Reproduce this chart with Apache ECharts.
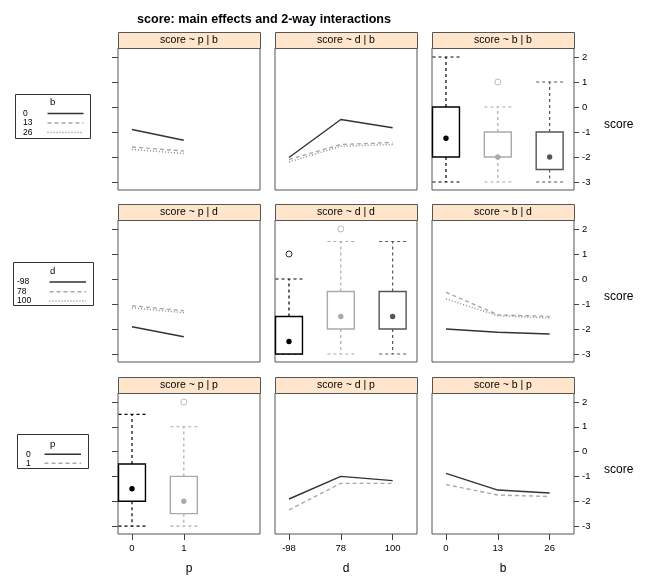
<!DOCTYPE html>
<html><head><meta charset="utf-8">
<script src="https://cdn.jsdelivr.net/npm/echarts@6/dist/echarts.min.js"></script>
<style>html,body{margin:0;padding:0;background:#fff}#c{width:646px;height:576px}</style>
</head><body><div id="c"></div>
<script>
// ---- categories / tick labels ----
const levelsP = ['0', '1'];
const levelsD = ['-98', '78', '100'];
const levelsB = ['0', '13', '26'];
const yTicks = [-3, -2, -1, 0, 1, 2];
const stripTitles = [
  'score ~ p | b', 'score ~ d | b', 'score ~ b | b',
  'score ~ p | d', 'score ~ d | d', 'score ~ b | d',
  'score ~ p | p', 'score ~ d | p', 'score ~ b | p'
];

// ---- row 1: conditioned on b ----
const pByB_b0 = [-0.90, -1.33];
const pByB_b13 = [-1.60, -1.76];
const pByB_b26 = [-1.70, -1.86];
const dByB_b0 = [-2.02, -0.50, -0.83];
const dByB_b13 = [-2.10, -1.50, -1.42];
const dByB_b26 = [-2.20, -1.57, -1.50];
// boxes: [min, q1, median, q3, max]
const boxB_b0 = [-3, -2, -1.25, 0, 2];
const boxB_b13 = [-3, -2, -2, -1, 0];
const boxB_b26 = [-3, -2.5, -2, -1, 1];
const outB_b13 = [1];

// ---- row 2: conditioned on d ----
const pByD_d98 = [-1.91, -2.31];
const pByD_d78 = [-1.07, -1.27];
const pByD_d100 = [-1.15, -1.35];
const boxD_d98 = [-3, -3, -2.5, -1.5, 0];
const boxD_d78 = [-3, -2, -1.5, -0.5, 1.5];
const boxD_d100 = [-3, -2, -1.5, -0.5, 1.5];
const outD_d98 = [1];
const outD_d78 = [2];
const bByD_d98 = [-2.00, -2.13, -2.20];
const bByD_d78 = [-0.53, -1.43, -1.50];
const bByD_d100 = [-0.80, -1.47, -1.56];

// ---- row 3: conditioned on p ----
const boxP_p0 = [-3, -2, -1.5, -0.5, 1.5];
const boxP_p1 = [-3, -2.5, -2, -1, 1];
const outP_p1 = [2];
const dByP_p0 = [-1.91, -1.00, -1.17];
const dByP_p1 = [-2.35, -1.28, -1.28];
const bByP_p0 = [-0.88, -1.55, -1.67];
const bByP_p1 = [-1.33, -1.75, -1.81];

// ---- styles ----
const FONT = 'Liberation Sans, Arial, Helvetica, sans-serif';
const lineStyles = [
  {color: '#333333', type: 'solid', width: 1.4},
  {color: '#a8a8a8', type: [4, 3], width: 1.4},
  {color: '#8a8a8a', type: [1, 2], width: 1.4}
];
const boxColors = ['#000000', '#aaaaaa', '#555555'];
const colLeft = [118, 275, 432];
const rowTop = [48, 220, 393];
const W = 142, H = 142;
const HALF = 0.26;

const grids = [], xAxes = [], yAxes = [], series = [];
const xLabelSets = [levelsP, levelsD, levelsB];
const xNames = ['p', 'd', 'b'];

for (let r = 0; r < 3; r++) {
  for (let c = 0; c < 3; c++) {
    const i = r * 3 + c;
    grids.push({left: colLeft[c], top: rowTop[r], width: W, height: H, show: true,
      borderColor: '#555', borderWidth: 1, backgroundColor: '#fff', containLabel: false});
    const labels = xLabelSets[c];
    const vals = labels.map((_, k) => k);
    const bottomRow = r === 2;
    xAxes.push({type: 'value', gridIndex: i, min: -0.27, max: 2.47, position: 'bottom',
      axisLine: {show: false, onZero: false}, splitLine: {show: false},
      axisTick: {show: bottomRow, customValues: vals, inside: false, length: 6, lineStyle: {color: '#444'}},
      axisLabel: {show: bottomRow, customValues: vals, margin: 9, fontSize: 9.5, fontFamily: FONT, color: '#000',
        formatter: v => labels[Math.round(v)]},
      name: bottomRow ? xNames[c] : '', nameLocation: 'middle', nameGap: 29,
      nameTextStyle: {fontSize: 12, fontFamily: FONT, color: '#000'}});
    const yObj = {type: 'value', gridIndex: i, min: -3.32, max: 2.36,
      axisLine: {show: false, onZero: false}, splitLine: {show: false},
      axisTick: {show: c !== 1, customValues: yTicks, inside: false, length: c === 0 ? 6 : 5, lineStyle: {color: '#444'}},
      axisLabel: {show: c === 2, customValues: yTicks, margin: 8, fontSize: 9.5, fontFamily: FONT, color: '#000'},
      position: c === 2 ? 'right' : 'left'};
    if (c === 2) {
      Object.assign(yObj, {name: 'score', nameLocation: 'middle', nameRotate: 0, nameGap: 30,
        nameTextStyle: {fontSize: 12, fontFamily: FONT, color: '#000', align: 'left', verticalAlign: 'top'}});
    }
    yAxes.push(yObj);
  }
}

function addLines(gi, arrays) {
  arrays.forEach((arr, k) => {
    series.push({type: 'line', xAxisIndex: gi, yAxisIndex: gi, symbol: 'none', silent: true,
      animation: false, lineStyle: lineStyles[k], data: arr.map((v, j) => [j, v])});
  });
}

function renderBox(params, api) {
  const x = api.value(0);
  const mn = api.value(1), q1 = api.value(2), md = api.value(3), q3 = api.value(4), mx = api.value(5);
  const col = boxColors[api.value(6)];
  const tl = api.coord([x - HALF, q3]);
  const br = api.coord([x + HALF, q1]);
  const cTop = api.coord([x, mx]);
  const cBot = api.coord([x, mn]);
  const cQ3 = api.coord([x, q3]);
  const cQ1 = api.coord([x, q1]);
  const cMd = api.coord([x, md]);
  const dash = {stroke: col, lineWidth: 1.2, lineDash: [3, 3], fill: null};
  const children = [];
  if (mx > q3) {
    children.push({type: 'line', shape: {x1: cQ3[0], y1: cQ3[1], x2: cTop[0], y2: cTop[1]}, style: dash});
  }
  children.push({type: 'line', shape: {x1: tl[0], y1: cTop[1], x2: br[0], y2: cTop[1]}, style: dash});
  if (mn < q1) {
    children.push({type: 'line', shape: {x1: cQ1[0], y1: cQ1[1], x2: cBot[0], y2: cBot[1]}, style: dash});
  }
  children.push({type: 'line', shape: {x1: tl[0], y1: cBot[1], x2: br[0], y2: cBot[1]}, style: dash});
  children.push({type: 'rect', shape: {x: tl[0], y: tl[1], width: br[0] - tl[0], height: br[1] - tl[1]},
    style: {stroke: col, lineWidth: 1.4, fill: '#fff'}});
  children.push({type: 'circle', shape: {cx: cMd[0], cy: cMd[1], r: 2.7}, style: {fill: col, stroke: null}});
  return {type: 'group', children};
}

function addBoxes(gi, boxes, outliers) {
  series.push({type: 'custom', xAxisIndex: gi, yAxisIndex: gi, renderItem: renderBox, silent: true,
    animation: false, clip: false,
    encode: {x: 0, y: [1, 2, 3, 4, 5]},
    data: boxes.map((b, k) => [k].concat(b).concat([k]))});
  outliers.forEach((arr, k) => {
    if (!arr) return;
    series.push({type: 'scatter', xAxisIndex: gi, yAxisIndex: gi, silent: true, animation: false,
      symbol: 'circle', symbolSize: 6,
      itemStyle: {color: '#fff', borderColor: boxColors[k], borderWidth: 1},
      data: arr.map(v => [k, v])});
  });
}

// row 1
addLines(0, [pByB_b0, pByB_b13, pByB_b26]);
addLines(1, [dByB_b0, dByB_b13, dByB_b26]);
addBoxes(2, [boxB_b0, boxB_b13, boxB_b26], [null, outB_b13, null]);
// row 2
addLines(3, [pByD_d98, pByD_d78, pByD_d100]);
addBoxes(4, [boxD_d98, boxD_d78, boxD_d100], [outD_d98, outD_d78, null]);
addLines(5, [bByD_d98, bByD_d78, bByD_d100]);
// row 3
addBoxes(6, [boxP_p0, boxP_p1], [null, outP_p1]);
addLines(7, [dByP_p0, dByP_p1]);
addLines(8, [bByP_p0, bByP_p1]);

// strips
const graphics = [];
for (let r = 0; r < 3; r++) {
  for (let c = 0; c < 3; c++) {
    graphics.push({type: 'rect', left: colLeft[c], top: rowTop[r] - 16,
      shape: {width: W, height: 16}, style: {fill: '#ffe5cc', stroke: '#555', lineWidth: 1}});
    graphics.push({type: 'text', x: colLeft[c] + W / 2, y: rowTop[r] - 8,
      style: {text: stripTitles[r * 3 + c], fill: '#000', font: '10.5px ' + FONT, textAlign: 'center', textVerticalAlign: 'middle'}});
  }
}

// legends
function legend(box, title, titleY, labels, labelX, ys, lx1, lx2) {
  graphics.push({type: 'rect', shape: {x: box[0], y: box[1], width: box[2], height: box[3]},
    style: {fill: '#fff', stroke: '#333', lineWidth: 1}});
  graphics.push({type: 'text', x: 52.7, y: titleY,
    style: {text: title, fill: '#000', font: '9.5px ' + FONT, textAlign: 'center', textVerticalAlign: 'middle'}});
  labels.forEach((lab, k) => {
    graphics.push({type: 'text', x: labelX, y: ys[k],
      style: {text: lab, fill: '#000', font: '8.5px ' + FONT, textAlign: 'left', textVerticalAlign: 'middle'}});
    const ls = lineStyles[k];
    graphics.push({type: 'line', shape: {x1: lx1, y1: ys[k], x2: lx2, y2: ys[k]},
      style: {stroke: ls.color, lineWidth: ls.width, lineDash: ls.type === 'solid' ? null : ls.type}});
  });
}
legend([15.5, 94.5, 75, 44], 'b', 102.5, levelsB, 23, [113.5, 123, 132.5], 47.5, 83.5);
legend([13.5, 262.5, 80, 43], 'd', 271, levelsD, 17, [282, 291.7, 301], 49.5, 86);
legend([17.5, 434.5, 71, 34], 'p', 444, levelsP, 26, [454.3, 463.3], 44.5, 81);

const chart = echarts.init(document.getElementById('c'), null, {renderer: 'canvas'});
chart.setOption({
  animation: false,
  backgroundColor: '#fff',
  title: {text: 'score: main effects and 2-way interactions', left: 259, top: 8, textAlign: 'center',
    textStyle: {fontSize: 12.6, fontWeight: 'bold', fontFamily: FONT, color: '#000'}},
  grid: grids, xAxis: xAxes, yAxis: yAxes, series: series, graphic: graphics
});
</script></body></html>
